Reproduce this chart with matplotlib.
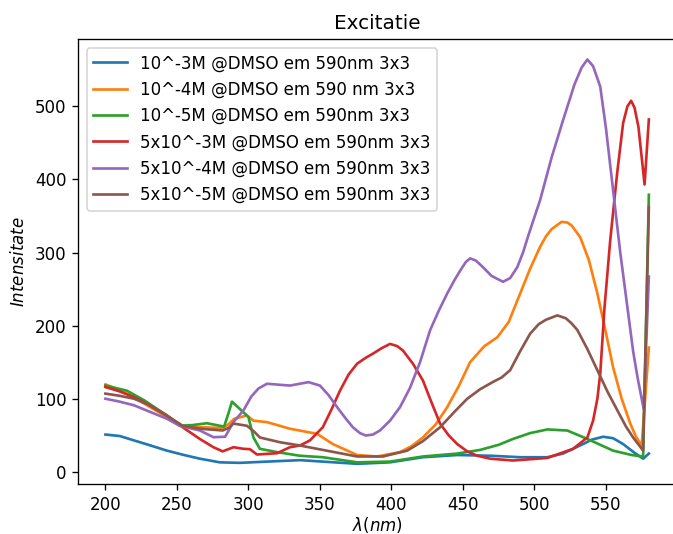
import matplotlib
matplotlib.use("Agg")
import matplotlib.pyplot as plt

# 10^-3M
x_blue = [200, 210, 220, 230, 243, 255, 266, 280, 294, 313, 336, 352, 376, 399, 422, 446, 470, 490, 509, 520, 527, 535, 540, 548, 555, 562, 570, 576, 580]
y_blue = [51, 49, 43, 37, 29, 23, 18, 13, 12.3, 14, 16, 14, 11, 13, 20, 23, 22, 20, 20, 25, 31.5, 39, 44, 48, 46, 38, 26, 18, 25]

# 10^-4M
x_orange = [200, 210, 220, 230, 243, 252, 266, 282, 286, 290, 299, 303.5, 313, 329, 348, 359, 376, 390, 406, 414, 422, 431, 439, 447, 455, 465, 474, 482, 490, 497, 504, 508, 512, 519, 523, 526, 532, 538, 544, 550, 555, 561, 567, 571, 575, 580]
y_orange = [119.6, 112, 102, 90, 75, 63, 61, 60, 65, 72.6, 77, 70, 68, 59, 52, 38, 23, 21, 27, 35, 47, 65, 88.5, 117, 150, 172, 184, 205, 244, 278, 308, 322, 332, 342, 341, 337, 321, 290, 244, 190, 143, 100, 66, 48, 36, 170]

# 10^-5M
x_green = [200, 215, 227, 243, 252, 261, 271, 280, 283, 286, 288.5, 294, 300, 303.5, 308, 320, 336, 352, 376, 399, 422, 446, 462, 475, 485, 497, 509, 523, 537, 555, 568, 576, 580]
y_green = [118, 111, 98, 77, 63, 64, 66.5, 63, 62, 80, 96, 86, 75, 47, 31.5, 27, 22, 20, 13, 14, 21, 25, 30, 37, 45, 53, 58, 56.5, 45, 29, 23, 21, 379]

# 5x10^-3M
x_red = [200, 210, 220, 230, 243, 254, 266, 275.5, 282, 289.5, 296.5, 301, 306, 320, 329, 336, 343, 352, 358, 364, 370, 376, 382, 387, 393, 399, 404, 408, 415, 422, 428, 434, 440, 446, 453, 460, 469, 485, 509, 527, 537, 541, 544, 546, 549, 553, 557.8, 562, 565, 567.6, 570, 572.7, 575, 577, 580]
y_red = [116, 110, 102, 92, 77, 61, 45, 33.7, 28, 33.7, 31.5, 31, 23.7, 25.5, 33.7, 36, 43, 61, 85, 111, 133, 148, 156, 161.6, 169, 175, 172, 166, 148, 125, 95, 66, 50, 38, 28, 22, 18, 15.5, 19, 31.5, 47, 70, 100, 134, 225, 317, 408, 477, 500, 507.6, 498, 472, 430, 393, 482]

# 5x10^-4M
x_purple = [200, 210, 220, 230, 243, 252, 266, 275.5, 283.7, 289.5, 296.5, 302, 307, 313, 329, 342, 350, 356, 362, 368, 373, 378, 382, 387, 392, 399, 406, 413, 420, 427, 433, 439, 444, 448, 452, 455, 459, 464, 470, 478, 483, 488, 492, 496, 504, 512, 520, 528, 533, 537, 541, 546, 550, 555, 560, 565, 569, 572, 576.4, 580]
y_purple = [100, 96, 91, 83, 72.6, 63, 56.6, 47.4, 48, 68, 84, 103, 114, 120.5, 118, 122.7, 118, 105, 88.5, 73, 61, 53, 49.7, 51, 56.6, 70, 88.5, 115, 150, 193.6, 220, 244, 262, 275, 287, 292, 289, 280, 268, 260, 265, 280, 300, 325, 372, 430, 481, 530, 553, 564, 555, 527, 470, 385, 300, 225, 165, 130, 86, 267]

# 5x10^-5M
x_brown = [200, 210, 220, 230, 243, 254, 266, 282, 286, 289.5, 299, 304, 308, 322, 336, 348, 376, 394, 411, 422, 434, 444, 453, 462, 471, 477, 483, 490, 497, 503, 508, 516, 522, 526, 530, 537, 544, 551, 558, 564, 569, 576, 580]
y_brown = [107, 104, 100, 92, 77, 63, 59, 56.6, 60, 66, 63, 55, 47, 40.5, 36, 31.5, 21, 21, 29, 42, 61, 82, 100, 113, 123, 129, 139, 165, 189, 202, 208, 214, 210, 203, 194, 168, 139, 110, 84, 62, 47, 29, 362]

labels = [
    "10^-3M @DMSO em 590nm 3x3",
    "10^-4M @DMSO em 590 nm 3x3",
    "10^-5M @DMSO em 590nm 3x3",
    "5x10^-3M @DMSO em 590nm 3x3",
    "5x10^-4M @DMSO em 590nm 3x3",
    "5x10^-5M @DMSO em 590nm 3x3",
]

series = [(x_blue, y_blue), (x_orange, y_orange), (x_green, y_green),
          (x_red, y_red), (x_purple, y_purple), (x_brown, y_brown)]

fig = plt.figure(figsize=(673 / 120, 534 / 120), dpi=120)
ax = fig.add_axes([0.1163, 0.0936, 0.8882, 0.8328])
for (xs, ys), lab in zip(series, labels):
    ax.plot(xs, ys, label=lab, linewidth=1.6)

ax.set_title("Excitatie")
ax.set_xlabel(r"$\lambda (nm)$", labelpad=1)
ax.set_ylabel(r"$Intensitate$")
ax.legend(loc="upper left")
fig.savefig("out.png", dpi=120)
